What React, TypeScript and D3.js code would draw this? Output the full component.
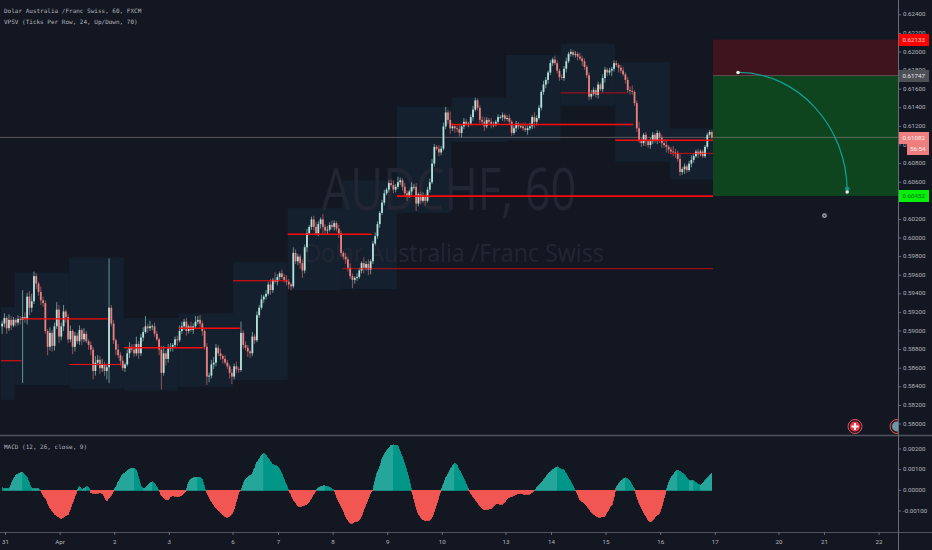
import { area as d3Area, scaleLinear, path as d3Path } from 'd3'

// AUDCHF 60 chart, prices in 1/10000, one entry per hourly bar
const closes = [
  5908,5914,5903,5912,5906,5912,5909,5913,5912,5915,
  5913,5937,5925,5932,5959,5951,5942,5933,5930,5900,
  5883,5898,5884,5905,5923,5894,5905,5921,5915,5891,
  5900,5883,5895,5889,5901,5891,5897,5889,5885,5880,
  5857,5866,5869,5860,5864,5857,5861,5925,5908,5890,
  5880,5874,5868,5860,5864,5876,5883,5880,5876,5886,
  5876,5893,5899,5905,5903,5905,5905,5897,5891,5880,
  5855,5876,5870,5881,5883,5885,5891,5890,5900,5905,
  5910,5900,5905,5901,5905,5910,5912,5908,5900,5883,
  5851,5852,5864,5866,5882,5876,5873,5870,5866,5862,
  5855,5851,5862,5859,5858,5898,5885,5882,5878,5876,
  5894,5890,5917,5925,5934,5937,5940,5950,5944,5955,
  5953,5958,5962,5958,5955,5953,5950,5948,5984,5975,
  5980,5973,5965,5990,6005,6012,6020,6012,6005,6015,
  6020,6012,6008,6009,6014,6012,6016,6010,6005,5984,
  5980,5977,5968,5959,5955,5957,5958,5965,5973,5968,
  5972,5966,5975,5994,6002,6015,6027,6038,6048,6052,
  6059,6057,6052,6055,6060,6062,6055,6048,6045,6050,
  6055,6055,6037,6047,6040,6045,6040,6052,6060,6080,
  6098,6096,6092,6096,6120,6135,6127,6118,6120,6118,
  6117,6113,6120,6125,6122,6123,6130,6138,6148,6140,
  6127,6125,6120,6127,6125,6122,6122,6125,6130,6130,
  6132,6128,6129,6125,6113,6118,6123,6120,6120,6118,
  6116,6118,6120,6130,6125,6129,6140,6157,6165,6170,
  6178,6188,6192,6188,6180,6173,6172,6182,6190,6198,
  6200,6197,6198,6195,6193,6190,6184,6175,6152,6155,
  6159,6154,6165,6160,6172,6181,6178,6180,6182,6188,
  6186,6183,6180,6176,6170,6159,6158,6157,6145,6118,
  6105,6102,6111,6104,6100,6104,6111,6105,6113,6108,
  6102,6100,6098,6095,6093,6092,6091,6085,6071,6074,
  6077,6073,6080,6084,6088,6093,6090,6093,6088,6098,
  6111,6114,6108,
]
const wickUp = [
  3,5,2,6,4,3,2,4,3,29, 5,4,6,8,5,3,2,6,4,3,
  2,6,3,4,8,5,4,7,2,3, 6,2,4,3,5,2,6,3,2,4,
  3,7,5,4,6,3,4,53,3,4, 2,6,3,5,2,4,5,3,6,8,
  3,4,5,11,3,6,2,4,3,2, 4,8,3,5,4,2,3,4,6,5,
  3,4,2,5,3,6,4,5,3,2, 4,3,5,6,4,3,5,2,4,3,
  2,4,3,5,2,12,3,4,3,2, 5,3,4,3,5,2,4,3,6,2,
  8,3,2,4,3,5,3,2,6,4, 3,2,4,3,5,2,3,4,5,3,
  2,6,3,4,3,5,3,2,4,3, 2,4,3,5,3,2,4,3,2,6,
  3,5,2,3,4,3,2,3,4,2, 3,4,5,3,6,3,2,4,3,2,
  5,3,4,2,3,4,2,3,4,5, 3,2,4,3,4,6,3,9,3,2,
  3,5,2,4,3,2,3,4,3,2, 3,4,5,3,2,4,3,2,3,2,
  3,2,3,4,2,3,3,2,3,4, 6,3,4,2,5,3,3,2,4,3,
  2,3,2,4,3,2,3,3,4,2, 3,2,3,2,4,3,3,2,3,4,
  3,2,3,2,4,3,2,3,2,3, 3,2,3,4,2,3,4,6,2,3,
  7,3,2,3,2,4,3,2,3,2, 3,4,5,2,3,6,4,3,5,2,
  3,2,3,5,3,2,3,
]
const wickDown = [
  8,4,6,3,5,2,4,3,5,68, 4,6,8,5,3,6,4,5,4,3,
  9,4,6,5,3,7,4,5,6,4, 3,8,5,3,4,6,3,2,5,6,
  9,5,3,6,4,5,9,17,3,4, 6,3,5,3,4,2,5,3,4,3,
  6,3,4,2,5,3,4,3,2,6, 18,3,7,4,3,5,3,6,2,3,
  4,5,3,2,4,2,3,4,5,3, 9,6,3,5,4,3,4,5,2,3,
  6,8,3,4,3,2,4,3,6,5, 3,4,2,3,2,4,3,2,5,3,
  2,4,3,2,3,4,5,4,2,3, 4,6,8,3,5,2,3,4,2,3,
  5,8,3,4,2,3,4,3,5,4, 3,5,4,3,9,4,3,2,3,6,
  3,6,5,3,2,3,4,2,3,2, 3,2,4,3,2,3,4,3,5,2,
  4,3,8,3,4,2,5,2,3,2, 3,2,4,3,2,3,4,6,3,5,
  3,4,5,3,2,3,2,4,2,3, 4,3,5,2,3,4,3,2,3,2,
  4,3,2,3,3,2,4,3,2,3, 2,5,2,3,7,4,2,3,3,4,
  4,3,3,2,3,4,2,3,4,2, 3,2,3,4,2,5,3,3,4,3,
  2,3,4,2,3,5,4,3,6,3, 2,5,3,2,4,3,4,3,3,4,
  3,4,3,5,3,4,3,3,4,6, 5,3,6,4,3,4,5,3,4,3,
  5,3,2,4,3,2,4,
]
// hourly MACD histogram in 1/100000
const macdHist = [
  13,8,8,8,30,54,73,78,85,88,
  75,62,35,8,8,8,8,0,-25,-36,
  -60,-85,-100,-115,-122,-130,-137,-130,-122,-117,
  -90,-60,-30,0,21,5,8,18,15,-11,
  -14,-16,-14,-12,-15,-30,-52,-35,-24,0,
  15,40,60,78,85,95,103,106,106,100,
  60,21,8,12,25,35,41,35,15,0,
  -25,-36,-44,-47,-30,-26,-28,-30,-28,-25,
  -15,0,40,54,60,63,63,62,54,13,
  -10,-35,-55,-70,-85,-97,-105,-118,-128,-130,
  -125,-115,-90,-50,-10,0,30,54,65,72,
  78,110,135,151,170,180,170,155,138,125,
  119,118,102,80,50,25,0,-20,-45,-60,
  -76,-80,-76,-72,-68,-55,-36,-18,0,13,
  18,21,21,18,15,5,0,-30,-55,-76,
  -100,-125,-145,-158,-160,-152,-150,-145,-125,-93,
  -65,-40,-10,0,50,90,111,150,175,192,
  205,218,220,218,216,185,160,127,90,50,
  0,-40,-85,-115,-130,-142,-147,-145,-145,-130,
  -100,-70,-30,0,30,60,78,100,118,130,
  125,100,80,55,30,5,-15,-30,-45,-60,
  -75,-88,-94,-92,-90,-89,-78,-67,-64,-68,
  -67,-55,-42,-33,-30,-25,-20,-16,-15,-18,
  -20,-20,-20,-10,0,12,25,38,50,65,
  80,90,100,108,114,108,102,98,80,60,
  44,22,0,-20,-45,-55,-65,-75,-90,-105,
  -115,-125,-130,-130,-128,-127,-105,-85,-70,-25,
  15,32,45,55,62,55,46,25,5,-30,
  -60,-86,-105,-125,-145,-153,-145,-130,-120,-110,
  -80,-35,0,35,60,75,90,98,92,84,
  76,60,46,46,46,38,30,24,34,48,
  60,72,85,
]

// volume profile sessions: bar where each starts, and the price span of its box
const sessionStarts = [0, 6, 30, 54, 78, 102, 126, 150, 174, 198, 222, 246, 270, 294, 313]
const sessionTops = [5926, 5963, 5979, 5914, 5919, 5974, 6032, 6062, 6141, 6151, 6197, 6209, 6189, 6118]
const sessionBottoms = [5826, 5842, 5838, 5836, 5840, 5847, 5944, 5945, 6027, 6103, 6105, 6142, 6082, 6063]
// point of control lines
const pocFrom = [0, 9, 30, 54, 78, 102, 126, 150, 174, 198, 246, 270, 294]
const pocTo = [9, 47, 53, 89, 105, 126, 163, 313, 313, 278, 275, 313, 313]
const pocPrice = [5868, 5913, 5864, 5882, 5903, 5954, 6004, 5967, 6045, 6122, 6156, 6105, 6091]
const pocThick = [1, 1.3, 1, 1.3, 1.5, 1, 1.5, 0.7, 1.6, 1.6, 0.7, 1.5, 0.8]

const priceTicks = [0.624, 0.622, 0.62, 0.618, 0.616, 0.614, 0.612, 0.61, 0.608, 0.606, 0.604, 0.602, 0.6, 0.598, 0.596, 0.594, 0.592, 0.59, 0.588, 0.586, 0.584, 0.582, 0.58]
const macdTicks = [0.002, 0.001, 0, -0.001]
const timeLabels = ['31', 'Apr', '2', '3', '6', '7', '8', '9', '10', '13', '14', '15', '16', '17', '20', '21', '22']
const timeBars = [2, 26, 50, 74, 102, 122, 146, 170, 194, 222, 242, 266, 290, 314, 342, 362, 386]

const stopPrice = 0.62133
const entryPrice = 0.61747
const lastPrice = 0.61082
const targetPrice = 0.60452
const arcBars = [324, 372]
const arcPrices = [0.6178, 0.60495]

const BG = '#131722'
const BOX = '#14202e'
const UP = '#b4e2dc'
const DOWN = '#ea8080'
const PANE_W = 898

const x = scaleLinear().domain([0, 313]).range([1, 713])
const y = scaleLinear().domain([0.58, 0.62]).range([424, 52])
const yM = scaleLinear().domain([-0.001, 0.002]).range([511, 449])
const pip = (v: number) => y(v / 10000)
const step = x(1) - x(0)

const macdArea = d3Area<number>()
  .x((_, k) => k)
  .y0(() => yM(0))
  .y1((v) => yM(v / 100000))

function Label({ px, py, text, fill = '#b2b5be', anchor = 'start' }: { px: number; py: number; text: string; fill?: string; anchor?: 'start' | 'middle' }) {
  return (
    <text x={px} y={py} fontFamily="Roboto, sans-serif" fontSize={6.2} fill={fill} textAnchor={anchor} dominantBaseline="middle">
      {text}
    </text>
  )
}

function Legend({ py, text }: { py: number; text: string }) {
  return (
    <text x={4} y={py} fontFamily='"DejaVu Sans Mono", monospace' fontSize={6} fill="#b2b5be" dominantBaseline="middle">
      {text}
    </text>
  )
}

export default function App() {
  const ax = x(arcBars[0])
  const ay = y(arcPrices[0])
  const bx = x(arcBars[1])
  const by = y(arcPrices[1])
  const arc = d3Path()
  arc.moveTo(ax, ay)
  arc.bezierCurveTo(ax + (bx - ax) * 0.55, ay, bx, ay + (by - ay) * 0.45, bx, by)

  return (
    <svg width={932} height={550} style={{ position: 'absolute', left: 0, top: 0, background: BG }}>
      <defs>
        <clipPath id="pane"><rect x={0} y={0} width={PANE_W} height={435} /></clipPath>
      </defs>

      {/* volume profile boxes */}
      {sessionTops.map((top, i) => (
        <rect key={i} x={x(sessionStarts[i])} y={pip(top)} width={x(sessionStarts[i + 1]) - x(sessionStarts[i])} height={pip(sessionBottoms[i]) - pip(top)} fill={BOX} />
      ))}

      {/* watermark */}
      <text transform="translate(449,210) scale(0.78,1)" textAnchor="middle" fontFamily="'Open Sans', sans-serif" fontSize={58} fill="#222632">AUDCHF, 60</text>
      <text transform="translate(454,262) scale(0.93,1)" textAnchor="middle" fontFamily="'Open Sans', sans-serif" fontSize={25} fill="#222632">Dolar Australia /Franc Swiss</text>

      {/* position tool */}
      <rect x={x(313)} y={y(stopPrice)} width={PANE_W - x(313)} height={y(entryPrice) - y(stopPrice)} fill="#40141c" />
      <rect x={x(313)} y={y(entryPrice)} width={PANE_W - x(313)} height={y(targetPrice) - y(entryPrice)} fill="#0e451f" />
      <line x1={x(313)} x2={PANE_W} y1={y(entryPrice)} y2={y(entryPrice)} stroke="#6b5560" strokeWidth={0.8} />

      {/* last price line */}
      <line x1={0} x2={PANE_W} y1={y(lastPrice)} y2={y(lastPrice)} stroke="#a08a8e" strokeOpacity={0.6} strokeWidth={0.9} />

      {/* candles */}
      {closes.map((c, i) => {
        const o = i === 0 ? 5905 : closes[i - 1]
        const hi = Math.max(o, c) + (wickUp[i] ?? 2)
        const lo = Math.min(o, c) - (wickDown[i] ?? 2)
        const up = c >= o
        const top = pip(Math.max(o, c))
        const h = Math.max(0.8, pip(Math.min(o, c)) - top)
        const cx = x(i) + step / 2
        return (
          <g key={i}>
            <line x1={cx} x2={cx} y1={pip(hi)} y2={pip(lo)} stroke={up ? '#6f9f9c' : '#a0585e'} strokeWidth={0.9} />
            <rect x={cx - 0.9} y={top} width={1.8} height={h} fill={up ? UP : DOWN} />
          </g>
        )
      })}

      {/* point of control lines */}
      {pocPrice.map((p, i) => (
        <line key={i} x1={x(pocFrom[i])} x2={x(pocTo[i])} y1={pip(p)} y2={pip(p)} stroke="#ff0a0a" strokeWidth={pocThick[i]} />
      ))}

      {/* arc drawing */}
      <path d={arc.toString()} fill="none" stroke="#12a096" strokeWidth={1.2} />
      <rect x={bx - 2} y={by - 5} width={4} height={3.5} fill="#1d8f86" />
      <circle cx={ax} cy={ay} r={1.8} fill="#e8eaee" />
      <circle cx={bx} cy={by} r={1.8} fill="#e8eaee" />
      <circle cx={x(362)} cy={pip(6024)} r={2.4} fill="#9aa0a8" />
      <circle cx={x(362)} cy={pip(6024)} r={1} fill="#3a3f48" />

      {/* economic event flags */}
      <g clipPath="url(#pane)">
        <circle cx={855} cy={426.5} r={7} fill="#2a1c26" stroke="#e4525c" strokeWidth={1} />
        <circle cx={855} cy={426.5} r={5} fill="#f0384a" />
        <rect x={851.5} y={425.5} width={7} height={2} fill="#f4f6f8" />
        <rect x={854} y={423} width={2} height={7} fill="#f4f6f8" />
        <circle cx={897} cy={426.5} r={7} fill="#2a1c26" stroke="#e4525c" strokeWidth={1} />
        <circle cx={897} cy={426.5} r={5} fill="#6f98a6" />
      </g>

      {/* legends */}
      <Legend py={11.5} text="Dolar Australia /Franc Swiss, 60, FXCM" />
      <Legend py={22} text="VPSV (Ticks Per Row, 24, Up/Down, 70)" />
      <Legend py={447.5} text="MACD (12, 26, close, 9)" />

      {/* MACD histogram, each segment joined to the next bar */}
      <g shapeRendering="crispEdges">
        {macdHist.slice(0, -1).map((v, i) => {
          const next = macdHist[i + 1]
          const fill = v + next < 0 ? '#f15653' : next >= v ? '#26a69a' : '#009688'
          const seg = macdArea.x((_, k) => x(i + k) + step / 2)([v, next]) ?? ''
          return <path key={i} d={seg} fill={fill} stroke={fill} strokeWidth={0.8} />
        })}
      </g>

      {/* pane frames */}
      <line x1={0} x2={932} y1={435.5} y2={435.5} stroke="#50535e" strokeWidth={1.4} />
      <line x1={0} x2={932} y1={532.5} y2={532.5} stroke="#50535e" strokeWidth={1} />
      <line x1={PANE_W + 0.5} x2={PANE_W + 0.5} y1={0} y2={550} stroke="#6a6d78" strokeWidth={1} />

      {/* price axis */}
      {priceTicks.map((t) => (
        <g key={t}>
          <line x1={PANE_W} x2={PANE_W + 3} y1={y(t)} y2={y(t)} stroke="#6a6d78" />
          <Label px={903} py={y(t)} text={t.toFixed(5)} />
        </g>
      ))}
      {macdTicks.map((t) => (
        <g key={t}>
          <line x1={PANE_W} x2={PANE_W + 3} y1={yM(t)} y2={yM(t)} stroke="#6a6d78" />
          <Label px={903} py={yM(t)} text={t.toFixed(5)} />
        </g>
      ))}

      {/* time axis */}
      {timeLabels.map((t, i) => (
        <g key={t}>
          <line x1={x(timeBars[i])} x2={x(timeBars[i])} y1={532} y2={535} stroke="#6a6d78" />
          <Label px={x(timeBars[i])} py={542} text={t} anchor="middle" />
        </g>
      ))}

      {/* price tags */}
      <rect x={899} y={34} width={30} height={12} fill="#ff0000" />
      <Label px={902.5} py={40} text={stopPrice.toFixed(5)} fill="#ffd8d8" />
      <rect x={899} y={70} width={30} height={12} fill="#4e5058" />
      <Label px={902.5} py={76} text={entryPrice.toFixed(5)} fill="#e4e4e8" />
      <rect x={899} y={132} width={30} height={12} fill="#ef7f7f" />
      <Label px={902.5} py={138} text={lastPrice.toFixed(5)} fill="#fff0f0" />
      <rect x={907} y={144} width={22} height={11} fill="#ef7f7f" />
      <Label px={910} py={149.5} text="56:54" fill="#fff0f0" />
      <rect x={899} y={190} width={30} height={12} fill="#06f00a" />
      <Label px={902.5} py={196} text={targetPrice.toFixed(5)} fill="#0f6a20" />
    </svg>
  )
}
